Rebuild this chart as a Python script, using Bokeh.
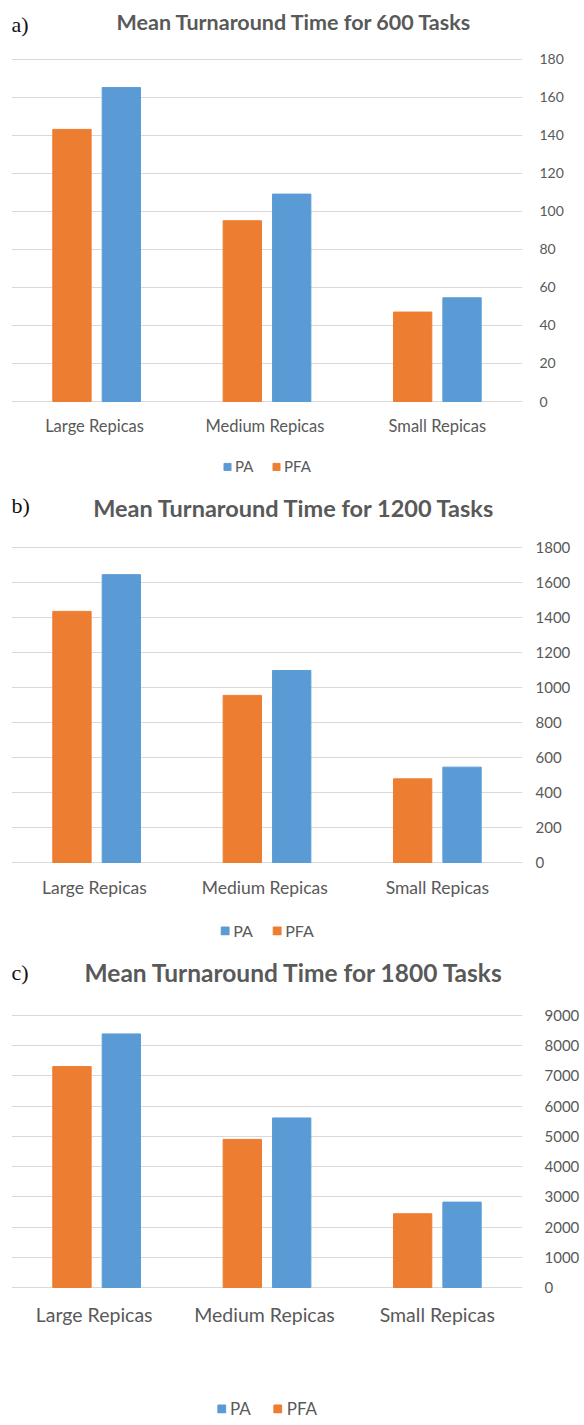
from bokeh.plotting import figure
from bokeh.models import (Range1d, FixedTicker, Label, Legend, LegendItem,
                          ColumnDataSource)
from bokeh.transform import dodge
from bokeh.layouts import column
from bokeh.embed import file_html
from bokeh.resources import INLINE

# ---- data ----
categories = ["Large  Repicas", "Medium  Repicas", "Small Repicas"]
series = ["PA", "PFA"]

pa_600 = [165, 109, 54.5]
pfa_600 = [143, 95, 47]
pa_1200 = [1645, 1097, 545]
pfa_1200 = [1435, 955, 478]
pa_1800 = [8390, 5610, 2825]
pfa_1800 = [7310, 4900, 2440]

ticks_600 = [0, 20, 40, 60, 80, 100, 120, 140, 160, 180]
ticks_1200 = [0, 200, 400, 600, 800, 1000, 1200, 1400, 1600, 1800]
ticks_1800 = [0, 1000, 2000, 3000, 4000, 5000, 6000, 7000, 8000, 9000]

titles = ["Mean Turnaround Time for 600 Tasks",
          "Mean Turnaround Time for 1200 Tasks",
          "Mean Turnaround Time for 1800 Tasks"]
letters = ["a)", "b)", "c)"]

BLUE = "#5B9BD5"
ORANGE = "#ED7D31"
GRID = "#D9D9D9"
TEXT = "#595959"
FONT = "Lato"
W = 584


def bars(p, src):
    r_pfa = p.vbar(x=dodge("cat", -0.145, range=p.x_range), top="pfa",
                   width=0.225, source=src, fill_color=ORANGE,
                   line_color=ORANGE)
    r_pa = p.vbar(x=dodge("cat", 0.145, range=p.x_range), top="pa",
                  width=0.225, source=src, fill_color=BLUE, line_color=BLUE)
    return r_pa, r_pfa


def panel(letter, title, src, ticks, L):
    # page-pixel layout -> figure geometry
    top, bottom = L["top"], L["bottom"]
    ytop, yzero = L["ytop"], L["yzero"]
    vmax = ticks[-1]
    scale = (yzero - ytop) / vmax
    frame_bottom = yzero + 1
    y_end = vmax + (ytop - top) / scale
    y_start = -1 / scale

    p = figure(width=W, height=bottom - top, x_range=categories,
               y_range=Range1d(y_start, y_end),
               y_axis_location="right", output_backend="svg",
               toolbar_location=None, min_border_left=L["fl"],
               min_border_right=W - L["fr"], min_border_top=0,
               min_border_bottom=bottom - frame_bottom)
    p.outline_line_color = None
    bars(p, src)

    p.xgrid.grid_line_color = None
    p.ygrid.grid_line_color = GRID
    p.ygrid.grid_line_width = 1
    p.yaxis.ticker = FixedTicker(ticks=ticks)
    for ax in (p.xaxis, p.yaxis):
        ax.axis_line_color = None
        ax.major_tick_line_color = None
        ax.minor_tick_line_color = None
        ax.major_tick_out = 0
        ax.major_tick_in = 0
        ax.minor_tick_out = 0
        ax.major_label_text_color = TEXT
        ax.major_label_text_font = FONT
    p.yaxis.major_label_text_font_size = L["yfs"]
    p.yaxis.major_label_standoff = L["ys"]
    p.xaxis.major_label_text_font_size = L["xfs"]
    p.xaxis.major_label_standoff = L["xs"]

    fl = L["fl"]
    p.add_layout(Label(x=L["lx"] - fl, y=frame_bottom - L["ly"],
                       x_units="screen", y_units="screen",
                       text=letter, text_font="Liberation Serif",
                       text_font_size="22px", text_color="#111111",
                       text_baseline="middle", text_align="left"))
    p.add_layout(Label(x=L["tx"] - fl, y=frame_bottom - L["ty"],
                       x_units="screen", y_units="screen",
                       text=title, text_font=FONT, text_font_style="bold",
                       text_font_size=L["tfs"], text_color=TEXT,
                       text_baseline="middle", text_align="center"))
    return p


def legend_row(src, height, fs, glyph, spacing):
    # legend strip: same series, renderers hidden so only the key shows
    q = figure(width=W, height=height, x_range=categories,
               y_range=Range1d(0, 1), x_axis_type=None, y_axis_type=None,
               min_border=0, toolbar_location=None, output_backend="svg")
    q.outline_line_color = None
    q.grid.visible = False
    r_pa, r_pfa = bars(q, src)
    r_pa.visible = False
    r_pfa.visible = False
    legend = Legend(items=[LegendItem(label=series[0], renderers=[r_pa]),
                           LegendItem(label=series[1], renderers=[r_pfa])],
                    orientation="horizontal", location="center",
                    glyph_width=glyph, glyph_height=glyph, label_height=12,
                    label_standoff=4, spacing=spacing, padding=0, margin=0,
                    border_line_color=None, background_fill_alpha=0,
                    inactive_fill_alpha=0,
                    label_text_font=FONT, label_text_color=TEXT,
                    label_text_font_size=fs)
    q.add_layout(legend, "center")
    return q


src_600 = ColumnDataSource(dict(cat=categories, pa=pa_600, pfa=pfa_600))
src_1200 = ColumnDataSource(dict(cat=categories, pa=pa_1200, pfa=pfa_1200))
src_1800 = ColumnDataSource(dict(cat=categories, pa=pa_1800, pfa=pfa_1800))

La = dict(top=0, bottom=450, ytop=58.5, yzero=401, fl=11, fr=538,
          yfs="14px", ys=17, xfs="16.5px", xs=13,
          lx=11, ly=24, tx=294, ty=21, tfs="21.5px")
Lb = dict(top=482, bottom=905, ytop=547, yzero=862, fl=11, fr=527,
          yfs="15px", ys=13, xfs="17.5px", xs=13,
          lx=11, ly=505, tx=294, ty=507, tfs="23.5px")
Lc = dict(top=955, bottom=1391, ytop=1015, yzero=1287, fl=11, fr=522,
          yfs="15px", ys=22, xfs="19.5px", xs=14,
          lx=11, ly=972, tx=294, ty=972, tfs="24.5px")

pa_ = panel(letters[0], titles[0], src_600, ticks_600, La)
pb_ = panel(letters[1], titles[1], src_1200, ticks_1200, Lb)
pc_ = panel(letters[2], titles[2], src_1800, ticks_1800, Lc)

layout = column(pa_, legend_row(src_600, 32, "15px", 9, 16),
                pb_, legend_row(src_1200, 50, "16px", 10, 18),
                pc_, legend_row(src_1800, 34, "17px", 10, 22), spacing=0)
open("out.html", "w").write(file_html(layout, INLINE))
